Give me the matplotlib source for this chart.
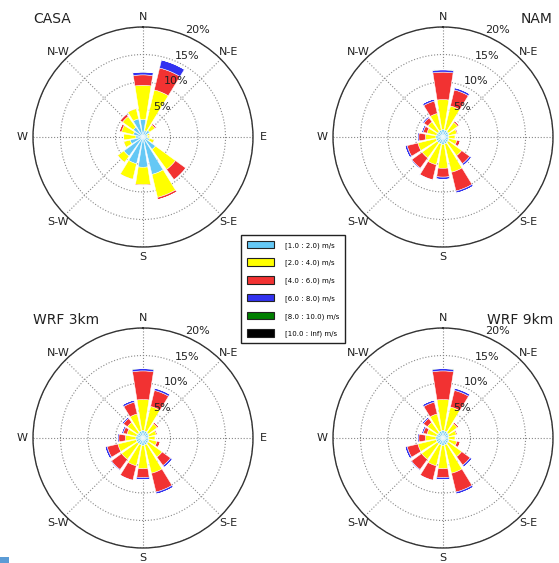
import numpy as np
import matplotlib
matplotlib.use("Agg")
import matplotlib.pyplot as plt
from matplotlib.patches import Patch, Rectangle

# 16 sectors, clockwise from north
directions = ["N", "NNE", "NE", "ENE", "E", "ESE", "SE", "SSE",
              "S", "SSW", "SW", "WSW", "W", "WNW", "NW", "NNW"]
bin_labels = ["[1.0 : 2.0) m/s", "[2.0 : 4.0) m/s", "[4.0 : 6.0) m/s",
              "[6.0 : 8.0) m/s", "[8.0 : 10.0) m/s", "[10.0 : inf) m/s"]
bin_colors = ["#64c8f5", "#ffff00", "#f23232", "#3232f0", "#007f00", "#000000"]
r_ticks = [5, 10, 15, 20]
r_labels = ["5%", "10%", "15%", "20%"]

# frequency (%) per speed bin, one list per bin
casa_1_2 = [3.2, 1.2, 1.5, 0.8, 0.8, 1.2, 2.8, 7.0, 5.5, 5.0, 4.3, 2.4, 1.3, 1.8, 2.2, 3.4]
casa_2_4 = [6.2, 7.6, 1.2, 0.5, 0.5, 0.9, 4.5, 4.3, 3.2, 2.9, 1.4, 1.2, 2.2, 2.2, 2.4, 1.9]
casa_4_6 = [1.9, 4.1, 0.3, 0.1, 0.0, 0.1, 2.3, 0.4, 0.2, 0.1, 0.1, 0.1, 0.05, 0.4, 0.5, 0.1]
casa_6_8 = [0.5, 1.5, 0.05, 0, 0, 0, 0.1, 0.05, 0, 0, 0, 0, 0, 0.05, 0.1, 0]
casa_8_10 = [0.05, 0.05, 0, 0, 0, 0, 0, 0, 0, 0, 0, 0, 0, 0, 0, 0]
casa_10 = [0] * 16

nam_1_2 = [1.4, 1.3, 1.2, 1.1, 1.0, 1.1, 1.2, 1.3, 1.4, 1.3, 1.3, 1.3, 1.3, 1.2, 1.2, 1.3]
nam_2_4 = [5.4, 4.5, 2.1, 1.5, 1.2, 1.5, 3.0, 5.3, 4.3, 3.9, 3.4, 3.4, 1.9, 1.8, 2.2, 3.1]
nam_4_6 = [5.0, 3.0, 0.3, 0.2, 0.1, 0.6, 1.8, 3.5, 1.6, 2.8, 2.3, 2.0, 1.2, 0.7, 0.9, 2.3]
nam_6_8 = [0.4, 0.4, 0.05, 0.05, 0, 0.05, 0.4, 0.4, 0.4, 0.1, 0.2, 0.4, 0.3, 0.3, 0.3, 0.4]
nam_8_10 = [0.1, 0.05, 0, 0, 0, 0, 0, 0.02, 0.02, 0, 0, 0.02, 0, 0, 0, 0]
nam_10 = [0] * 16

wrf3_1_2 = [1.4, 1.3, 1.2, 1.1, 1.0, 1.1, 1.2, 1.3, 1.4, 1.3, 1.3, 1.3, 1.3, 1.2, 1.2, 1.3]
wrf3_2_4 = [5.6, 4.6, 2.0, 1.4, 1.2, 1.5, 3.1, 5.3, 4.2, 3.9, 3.5, 3.4, 1.9, 1.8, 2.3, 3.2]
wrf3_4_6 = [5.2, 3.0, 0.3, 0.2, 0.1, 0.6, 1.9, 3.5, 1.6, 2.7, 2.3, 2.0, 1.2, 0.7, 0.9, 2.2]
wrf3_6_8 = [0.4, 0.4, 0.05, 0.05, 0, 0.05, 0.4, 0.4, 0.4, 0.1, 0.2, 0.4, 0.3, 0.3, 0.3, 0.4]
wrf3_8_10 = [0.1, 0.05, 0, 0, 0, 0, 0, 0.02, 0.02, 0, 0, 0.02, 0, 0, 0, 0]
wrf3_10 = [0] * 16

wrf9_1_2 = [1.4, 1.3, 1.2, 1.1, 1.0, 1.1, 1.2, 1.3, 1.4, 1.3, 1.3, 1.3, 1.3, 1.2, 1.2, 1.3]
wrf9_2_4 = [5.6, 4.5, 2.0, 1.4, 1.2, 1.5, 3.0, 5.3, 4.2, 3.9, 3.5, 3.4, 1.9, 1.8, 2.3, 3.2]
wrf9_4_6 = [5.2, 3.1, 0.3, 0.2, 0.1, 0.6, 1.9, 3.5, 1.6, 2.7, 2.3, 2.0, 1.2, 0.7, 0.9, 2.2]
wrf9_6_8 = [0.4, 0.4, 0.05, 0.05, 0, 0.05, 0.4, 0.4, 0.4, 0.1, 0.2, 0.4, 0.3, 0.3, 0.3, 0.4]
wrf9_8_10 = [0.1, 0.05, 0, 0, 0, 0, 0, 0.02, 0.02, 0, 0, 0.02, 0, 0, 0, 0]
wrf9_10 = [0] * 16

roses = [
    ("CASA", [casa_1_2, casa_2_4, casa_4_6, casa_6_8, casa_8_10, casa_10], "left"),
    ("NAM", [nam_1_2, nam_2_4, nam_4_6, nam_6_8, nam_8_10, nam_10], "right"),
    ("WRF 3km", [wrf3_1_2, wrf3_2_4, wrf3_4_6, wrf3_6_8, wrf3_8_10, wrf3_10], "left"),
    ("WRF 9km", [wrf9_1_2, wrf9_2_4, wrf9_4_6, wrf9_6_8, wrf9_8_10, wrf9_10], "right"),
]

W, H = 559, 563
fig = plt.figure(figsize=(W / 100, H / 100), dpi=100)

# rose centres in pixels (from top-left), radius 110 px
centres = [(143, 137), (443, 137), (143, 438), (443, 438)]
R = 110

theta = np.deg2rad(np.arange(16) * 22.5)
width = np.deg2rad(22.5) * 0.8

for (name, bins, side), (cx, cy) in zip(roses, centres):
    ax = fig.add_axes([(cx - R) / W, (H - cy - R) / H, 2 * R / W, 2 * R / H],
                      projection="polar")
    ax.set_theta_zero_location("N")
    ax.set_theta_direction(-1)
    ax.set_axisbelow(True)
    bottom = np.zeros(16)
    for vals, col in zip(bins, bin_colors):
        vals = np.array(vals, dtype=float)
        ax.bar(theta, vals, width=width, bottom=bottom, color=col,
               edgecolor="white", linewidth=0.35, zorder=2)
        bottom += vals
    ax.set_ylim(0, 20)
    ax.set_rgrids(r_ticks, labels=[""] * 4, angle=22.5)
    # radial labels drawn on top of the bars
    for r, lab in zip(r_ticks, r_labels):
        ax.text(np.deg2rad(22.5), r, lab, ha="left", va="bottom", fontsize=8,
                color="#222222", zorder=5)
    ax.set_thetagrids(np.arange(0, 360, 45),
                      labels=["N", "N-E", "E", "S-E", "S", "S-W", "W", "N-W"],
                      fontsize=8, color="#222222")
    ax.grid(True, linestyle=":", color="#888888", linewidth=0.8)
    ax.spines["polar"].set_color("#333333")
    ax.spines["polar"].set_linewidth(1.0)
    ax.tick_params(axis="x", pad=-3)

    ty = 1 - (cy - R - 8) / H
    if side == "left":
        fig.text((cx - R) / W, ty, name, ha="left", va="center", fontsize=10, color="#222222")
    else:
        fig.text((cx + R) / W, ty, name, ha="right", va="center", fontsize=10, color="#222222")

handles = [Patch(facecolor=c, edgecolor="#222222", linewidth=0.8) for c in bin_colors]
fig.legend(handles, bin_labels, loc="center", bbox_to_anchor=(293 / W, 1 - 289 / H),
           fontsize=5, frameon=True, fancybox=False, edgecolor="#222222",
           handlelength=3.9, handleheight=1.3, labelspacing=1.42, handletextpad=1.6,
           borderpad=0.8, framealpha=1)

fig.add_artist(Rectangle((0, 0), 9 / W, 6 / H, transform=fig.transFigure,
                         facecolor="#5b9bd5", edgecolor="none"))

fig.savefig("out.png", dpi=100)
